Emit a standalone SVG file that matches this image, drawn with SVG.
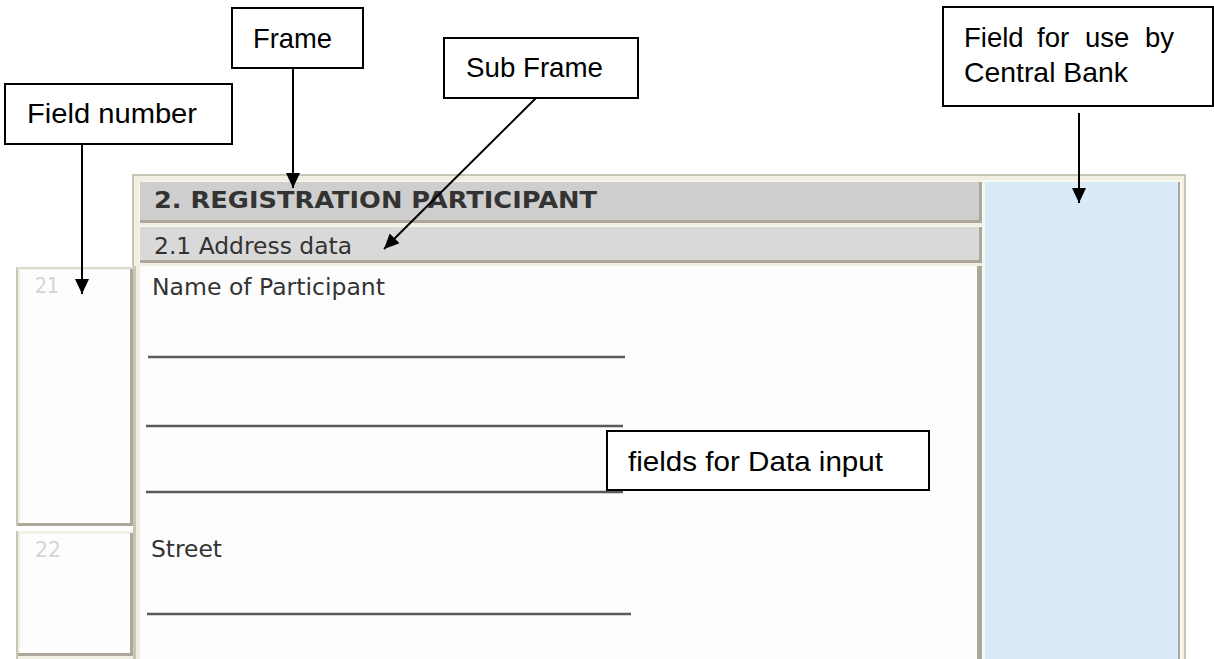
<svg xmlns="http://www.w3.org/2000/svg" width="1214" height="659" viewBox="0 0 1214 659">
<style>
.lbl{font-family:"Liberation Sans",Arial,sans-serif;font-size:27.5px;fill:#000}
.box{fill:#fff;stroke:#000;stroke-width:2}
.frm{font-family:"DejaVu Sans",Verdana,sans-serif;font-size:23.5px;fill:#333}
.num{font-family:"DejaVu Sans",Verdana,sans-serif;font-size:21px;fill:#d4d4d4}
.ul{stroke:#5a5a5a;stroke-width:2.5}
.conn{stroke:#000;stroke-width:2;fill:none;marker-end:url(#ah)}
</style>
<defs>
<marker id="ah" markerUnits="userSpaceOnUse" markerWidth="16" markerHeight="16" refX="15" refY="7" orient="auto">
<path d="M0,0 L15,7 L0,14 Z" fill="#000"/>
</marker>
</defs>
<rect width="1214" height="659" fill="#fff"/>
<g id="form">
<rect x="133" y="175" width="1052" height="490" fill="#f1efe2" stroke="#c8c4b6" stroke-width="2"/>
<rect x="139" y="181" width="843" height="42" fill="#f8f7f0"/>
<rect x="140" y="182" width="840" height="39" fill="#cecece"/>
<rect x="140" y="220" width="842" height="3" fill="#aca899"/>
<rect x="979" y="182" width="3" height="41" fill="#aca899"/>
<text class="frm" x="154" y="208" font-size="22" font-weight="bold" textLength="443" lengthAdjust="spacingAndGlyphs" fill="#2e2e2e">2. REGISTRATION PARTICIPANT</text>
<rect x="139" y="226" width="843" height="37" fill="#f8f7f0"/>
<rect x="140" y="227" width="840" height="34" fill="#d9d9d9"/>
<rect x="140" y="260" width="842" height="3" fill="#aca899"/>
<rect x="979" y="227" width="3" height="36" fill="#aca899"/>
<text class="frm" x="154" y="254" textLength="198" lengthAdjust="spacingAndGlyphs">2.1 Address data</text>
<rect x="136" y="266" width="846" height="400" fill="#fdfdfd"/>
<rect x="133" y="266" width="3" height="400" fill="#c8c4b6"/>
<rect x="136" y="266" width="4" height="400" fill="#f1efe2"/>
<rect x="977" y="266" width="5" height="400" fill="#aca899"/>
<rect x="982" y="180" width="200" height="486" fill="#f8f7f0"/>
<rect x="985" y="182" width="194" height="484" fill="#d9eaf8"/>
<rect x="1178" y="182" width="2" height="484" fill="#aca899"/>
<rect x="0" y="266" width="134" height="400" fill="#fff"/>
<rect x="16" y="267" width="117" height="259" fill="#f1efe2"/>
<rect x="20" y="270" width="110" height="253" fill="#fdfdfd"/>
<rect x="16" y="267" width="2" height="259" fill="#c8c4b6"/>
<rect x="16" y="267" width="117" height="1.5" fill="#d8d5ca"/>
<rect x="130" y="269" width="3" height="257" fill="#aca899"/>
<rect x="18" y="523" width="115" height="3" fill="#aca899"/>
<rect x="16" y="531" width="117" height="128" fill="#f1efe2"/>
<rect x="20" y="534" width="110" height="119" fill="#fdfdfd"/>
<rect x="16" y="531" width="2" height="128" fill="#c8c4b6"/>
<rect x="130" y="533" width="3" height="123" fill="#aca899"/>
<rect x="18" y="653" width="115" height="3" fill="#aca899"/>
<rect x="133" y="266" width="3" height="400" fill="#c8c4b6"/>
<text class="num" x="35" y="293" textLength="24" lengthAdjust="spacingAndGlyphs">21</text>
<text class="num" x="35" y="557" textLength="26" lengthAdjust="spacingAndGlyphs">22</text>
<text class="frm" x="152" y="295" textLength="233" lengthAdjust="spacingAndGlyphs">Name of Participant</text>
<text class="frm" x="151" y="557" textLength="71" lengthAdjust="spacingAndGlyphs">Street</text>
<line class="ul" x1="148" y1="357" x2="625" y2="357"/>
<line class="ul" x1="146" y1="426" x2="623" y2="426"/>
<line class="ul" x1="146" y1="492" x2="623" y2="492"/>
<line class="ul" x1="147" y1="614" x2="631" y2="614"/>
</g>
<g id="connectors">
<line class="conn" x1="82" y1="144" x2="82" y2="294"/>
<line class="conn" x1="293" y1="68" x2="293" y2="188"/>
<line class="conn" x1="536" y1="98" x2="384" y2="249"/>
<line class="conn" x1="1079" y1="113" x2="1079" y2="203"/>
</g>
<g id="node-field-number">
<rect class="box" x="5" y="84" width="227" height="60"/>
<text class="lbl" x="27" y="123" textLength="170" lengthAdjust="spacingAndGlyphs">Field number</text>
</g>
<g id="node-frame">
<rect class="box" x="232" y="8" width="131" height="60"/>
<text class="lbl" x="253" y="48" textLength="79" lengthAdjust="spacingAndGlyphs">Frame</text>
</g>
<g id="node-sub-frame">
<rect class="box" x="444" y="38" width="194" height="60"/>
<text class="lbl" x="466" y="77" textLength="137" lengthAdjust="spacingAndGlyphs">Sub Frame</text>
</g>
<g id="node-central-bank">
<rect class="box" x="943" y="7" width="270" height="99"/>
<text class="lbl" y="47"><tspan x="964">Field</tspan><tspan x="1037">for</tspan><tspan x="1085">use</tspan><tspan x="1145">by</tspan></text>
<text class="lbl" x="964" y="82" textLength="164" lengthAdjust="spacingAndGlyphs">Central Bank</text>
</g>
<g id="node-fields-input">
<rect class="box" x="607" y="431" width="322" height="59"/>
<text class="lbl" x="628" y="471" textLength="255" lengthAdjust="spacingAndGlyphs">fields for Data input</text>
</g>
</svg>
